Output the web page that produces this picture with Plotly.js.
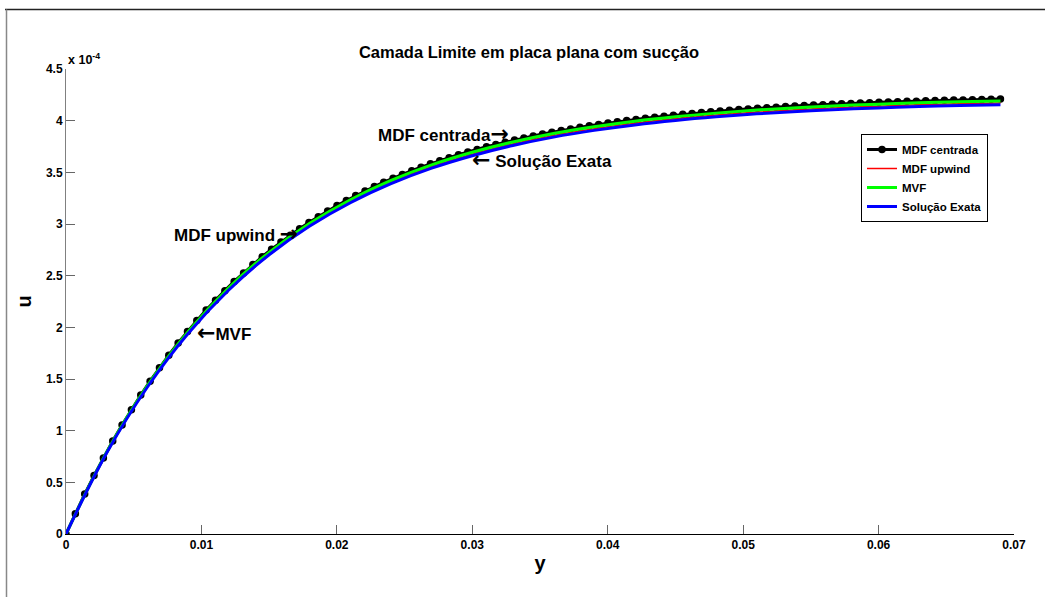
<!DOCTYPE html>
<html>
<head>
<meta charset="utf-8">
<script src="https://cdn.plot.ly/plotly-3.0.1.min.js"></script>
<style>html,body{margin:0;padding:0;background:#fff;}#chart{width:1045px;height:597px;}</style>
</head>
<body>
<div id="chart"></div>
<script>
// y positions (m) of the centered finite-difference grid
const yCentrada = [0, 0.00069, 0.00138, 0.00207, 0.00276, 0.00345, 0.00414, 0.00483, 0.00552, 0.00621, 0.0069, 0.00759, 0.00828, 0.00897, 0.00966, 0.01035, 0.01104, 0.01173, 0.01242, 0.01311, 0.0138, 0.01449, 0.01518, 0.01587, 0.01656, 0.01725, 0.01794, 0.01863, 0.01932, 0.02001, 0.0207, 0.02139, 0.02208, 0.02277, 0.02346, 0.02415, 0.02484, 0.02553, 0.02622, 0.02691, 0.0276, 0.02829, 0.02898, 0.02967, 0.03036, 0.03105, 0.03174, 0.03243, 0.03312, 0.03381, 0.0345, 0.03519, 0.03588, 0.03657, 0.03726, 0.03795, 0.03864, 0.03933, 0.04002, 0.04071, 0.0414, 0.04209, 0.04278, 0.04347, 0.04416, 0.04485, 0.04554, 0.04623, 0.04692, 0.04761, 0.0483, 0.04899, 0.04968, 0.05037, 0.05106, 0.05175, 0.05244, 0.05313, 0.05382, 0.05451, 0.0552, 0.05589, 0.05658, 0.05727, 0.05796, 0.05865, 0.05934, 0.06003, 0.06072, 0.06141, 0.0621, 0.06279, 0.06348, 0.06417, 0.06486, 0.06555, 0.06624, 0.06693, 0.06762, 0.06831, 0.069];
// u (x 1e-4) MDF centrada
const uCentrada = [0, 0.197, 0.386, 0.565, 0.736, 0.899, 1.055, 1.203, 1.345, 1.479, 1.608, 1.731, 1.848, 1.959, 2.065, 2.167, 2.263, 2.355, 2.444, 2.527, 2.607, 2.683, 2.756, 2.825, 2.891, 2.954, 3.014, 3.071, 3.126, 3.178, 3.227, 3.275, 3.320, 3.363, 3.404, 3.443, 3.480, 3.516, 3.550, 3.582, 3.613, 3.642, 3.670, 3.697, 3.722, 3.747, 3.770, 3.792, 3.813, 3.833, 3.852, 3.871, 3.888, 3.905, 3.920, 3.936, 3.950, 3.964, 3.977, 3.989, 4.001, 4.012, 4.023, 4.034, 4.043, 4.053, 4.062, 4.070, 4.078, 4.086, 4.094, 4.101, 4.107, 4.114, 4.120, 4.126, 4.131, 4.136, 4.142, 4.146, 4.151, 4.155, 4.159, 4.163, 4.167, 4.171, 4.174, 4.178, 4.181, 4.184, 4.187, 4.189, 4.192, 4.194, 4.197, 4.199, 4.201, 4.203, 4.205, 4.207, 4.209];

// y positions for the other solutions
const yLinhas = [0, 0.003, 0.006, 0.009, 0.012, 0.015, 0.018, 0.021, 0.024, 0.027, 0.030, 0.033, 0.036, 0.039, 0.042, 0.045, 0.048, 0.051, 0.054, 0.057, 0.060, 0.063, 0.066, 0.069];
const uUpwind = [0, 0.787, 1.426, 1.946, 2.369, 2.713, 2.992, 3.219, 3.404, 3.554, 3.676, 3.775, 3.857, 3.922, 3.975, 4.018, 4.054, 4.083, 4.106, 4.125, 4.140, 4.153, 4.163, 4.171];
const uMVF = [0, 0.791, 1.433, 1.955, 2.380, 2.726, 3.007, 3.235, 3.421, 3.572, 3.694, 3.794, 3.876, 3.941, 3.995, 4.038, 4.073, 4.103, 4.126, 4.145, 4.160, 4.173, 4.183, 4.191];
const uExata = [0, 0.784, 1.420, 1.938, 2.359, 2.702, 2.980, 3.206, 3.390, 3.540, 3.661, 3.760, 3.841, 3.906, 3.959, 4.002, 4.037, 4.066, 4.089, 4.108, 4.123, 4.136, 4.146, 4.154];

const seriesNames = ['MDF centrada', 'MDF upwind', 'MVF', 'Solução Exata'];
const xTicks = [0, 0.01, 0.02, 0.03, 0.04, 0.05, 0.06, 0.07];
const yTicks = [0, 0.5, 1, 1.5, 2, 2.5, 3, 3.5, 4, 4.5];

const FONT = 'Liberation Sans, Arial, sans-serif';
const RA = '<span style="font-family:DejaVu Sans;font-size:22px">→</span>';
const LA = '<span style="font-family:DejaVu Sans;font-size:22px">←</span>';

const traces = [
  {x: yCentrada, y: uCentrada, name: seriesNames[0], type: 'scatter', mode: 'lines+markers',
   line: {color: '#000000', width: 3}, marker: {color: '#000000', size: 7.5, symbol: 'circle'}},
  {x: yLinhas, y: uUpwind, name: seriesNames[1], type: 'scatter', mode: 'lines',
   line: {color: '#ff0000', width: 1.5, shape: 'spline'}},
  {x: yLinhas, y: uMVF, name: seriesNames[2], type: 'scatter', mode: 'lines',
   line: {color: '#00ff00', width: 3, shape: 'spline'}},
  {x: yLinhas, y: uExata, name: seriesNames[3], type: 'scatter', mode: 'lines',
   line: {color: '#0000ff', width: 3, shape: 'spline'}}
];

function px2x(p){ return (p - 66) / 948; }
function px2y(p){ return (534 - p) / 465; }

const layout = {
  width: 1045, height: 597,
  margin: {l: 66, r: 31, t: 69, b: 63},
  paper_bgcolor: '#ffffff', plot_bgcolor: '#ffffff',
  font: {family: FONT, color: '#000000'},
  showlegend: true,
  title: {text: 'Camada Limite em placa plana com sucção', font: {family: FONT, size: 16.5, color: '#000000', weight: 'bold'},
          x: px2x(529), xref: 'paper', xanchor: 'center', y: 1 - 52/597, yref: 'container', yanchor: 'middle'},
  xaxis: {range: [0, 0.07], tickvals: xTicks, ticktext: xTicks.map(String), showgrid: false, zeroline: false,
          showline: true, linecolor: '#000000', linewidth: 1, mirror: false,
          ticks: 'inside', ticklen: 9, tickcolor: '#666666', tickwidth: 1,
          tickfont: {family: FONT, size: 12, color: '#000000', weight: 'bold'},
          title: {text: 'y', font: {family: FONT, size: 20, color: '#000000', weight: 'bold'}, standoff: 4}},
  yaxis: {range: [0, 4.5], tickvals: yTicks, ticktext: yTicks.map(String), showgrid: false, zeroline: false,
          showline: true, linecolor: '#808080', linewidth: 1, mirror: false,
          ticks: 'inside', ticklen: 9, tickcolor: '#666666', tickwidth: 1,
          tickfont: {family: FONT, size: 12, color: '#000000', weight: 'bold'},
          title: {text: 'u', font: {family: FONT, size: 20, color: '#000000', weight: 'bold'}, standoff: 8}},
  legend: {x: px2x(861), y: px2y(134), xanchor: 'left', yanchor: 'top',
           bgcolor: '#ffffff', bordercolor: '#000000', borderwidth: 1,
           font: {family: FONT, size: 11.5, color: '#000000', weight: 'bold'}},
  annotations: [
    {xref: 'paper', yref: 'paper', x: 0, y: 1, xanchor: 'left', yanchor: 'bottom', yshift: 0, showarrow: false,
     text: 'x 10<sup>-4</sup>', font: {family: FONT, size: 12.5, color: '#000000', weight: 'bold'}},
    {xref: 'x', yref: 'y', x: 0.03286, y: 3.86, xanchor: 'right', yanchor: 'middle', yshift: 2, showarrow: false,
     text: 'MDF centrada' + RA, font: {family: FONT, size: 17, color: '#000000', weight: 'bold'}},
    {xref: 'x', yref: 'y', x: 0.02983, y: 3.607, xanchor: 'left', yanchor: 'middle', yshift: 2, showarrow: false,
     text: LA + ' Solução Exata', font: {family: FONT, size: 17, color: '#000000', weight: 'bold'}},
    {xref: 'x', yref: 'y', x: 0.01728, y: 2.89, xanchor: 'right', yanchor: 'middle', yshift: 2, showarrow: false,
     text: 'MDF upwind ' + RA, font: {family: FONT, size: 17, color: '#000000', weight: 'bold'}},
    {xref: 'x', yref: 'y', x: 0.00953, y: 1.934, xanchor: 'left', yanchor: 'middle', yshift: 2, showarrow: false,
     text: LA + 'MVF', font: {family: FONT, size: 17, color: '#000000', weight: 'bold'}}
  ],
  shapes: [
    {type: 'line', xref: 'paper', yref: 'paper', x0: px2x(5), x1: px2x(1045), y0: px2y(9.5), y1: px2y(9.5),
     line: {color: '#222222', width: 1.5}},
    {type: 'line', xref: 'paper', yref: 'paper', x0: px2x(6.5), x1: px2x(6.5), y0: px2y(9.5), y1: px2y(597),
     line: {color: '#888888', width: 1.5}}
  ]
};

Plotly.newPlot('chart', traces, layout, {displayModeBar: false, staticPlot: true});
</script>
</body>
</html>
